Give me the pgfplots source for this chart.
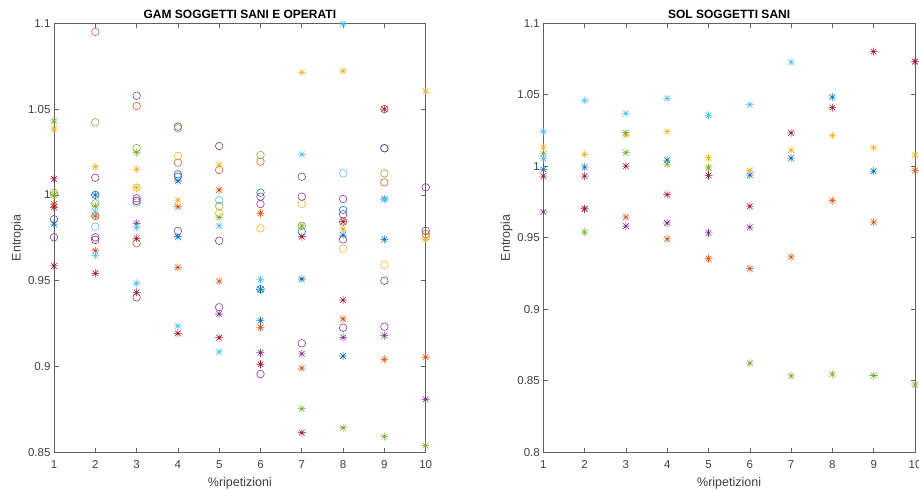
\documentclass[border=0pt]{standalone}
\usepackage{pgfplots}
\pgfplotsset{compat=1.18}
\usepackage{fontspec}
\setmainfont{Liberation Sans}
\definecolor{c1}{rgb}{0,0.447,0.741}
\definecolor{c2}{rgb}{0.85,0.325,0.098}
\definecolor{c3}{rgb}{0.929,0.694,0.125}
\definecolor{c4}{rgb}{0.494,0.184,0.556}
\definecolor{c5}{rgb}{0.466,0.674,0.188}
\definecolor{c6}{rgb}{0.301,0.745,0.933}
\definecolor{c7}{rgb}{0.635,0.078,0.184}
\definecolor{axc}{rgb}{0.38,0.38,0.38}
\definecolor{txc}{rgb}{0.25,0.25,0.25}
\pgfdeclareplotmark{mstar}{%
  \pgfpathmoveto{\pgfqpoint{0pt}{\pgfplotmarksize}}\pgfpathlineto{\pgfqpoint{0pt}{-\pgfplotmarksize}}%
  \pgfpathmoveto{\pgfqpoint{\pgfplotmarksize}{0pt}}\pgfpathlineto{\pgfqpoint{-\pgfplotmarksize}{0pt}}%
  \pgfpathmoveto{\pgfqpoint{0.707\pgfplotmarksize}{0.707\pgfplotmarksize}}\pgfpathlineto{\pgfqpoint{-0.707\pgfplotmarksize}{-0.707\pgfplotmarksize}}%
  \pgfpathmoveto{\pgfqpoint{0.707\pgfplotmarksize}{-0.707\pgfplotmarksize}}\pgfpathlineto{\pgfqpoint{-0.707\pgfplotmarksize}{0.707\pgfplotmarksize}}%
  \pgfusepathqstroke}
\pgfplotsset{
  mstyle/.style={
    scale only axis, width=371.7pt, height=429pt,
    xmin=1, xmax=10, xtick={1,...,10},
    axis line style={draw=axc, line width=0.6pt},
    tick style={draw=axc, line width=0.6pt},
    tick align=inside, major tick length=4.5pt,
    xtick pos=both, ytick pos=both,
    ticklabel style={font=\fontsize{11.5}{13}\selectfont, text=txc},
    xticklabel style={yshift=-5pt},
    /pgf/number format/assume math mode=true,
    label style={font=\fontsize{12.5}{14}\selectfont, text=txc},
    title style={font=\fontsize{12}{14}\selectfont\bfseries, text=black, yshift=-5pt},
    xlabel={\%ripetizioni}, ylabel={Entropia},
    xlabel style={yshift=-2pt},
    ylabel style={yshift=-2pt},
    clip=false,
  },
  ciro/.style={only marks, mark=o, mark size=3.8pt, mark options={line width=0.55pt}},
  star/.style={only marks, mark=mstar, mark size=4pt, mark options={line width=0.55pt}},
}
\begin{document}
\begin{tikzpicture}
\begin{axis}[mstyle, at={(54pt,37.7pt)}, anchor=south west,
  ymin=0.85, ymax=1.1, ytick={0.85,0.9,0.95,1,1.05,1.1},
  title={GAM SOGGETTI SANI E OPERATI}]
% circles
\addplot[ciro, c1] coordinates {(2,1.0) (4,1.012) (6,1.0013) (7,0.9786) (8,0.9912) (9,1.0272) (6,0.945)};
\addplot[ciro, c2] coordinates {(2,1.095) (2,0.9877) (3,1.0518) (3,0.9718) (4,1.0188) (5,1.0145) (6,1.0194) (8,0.9844) (9,1.0073) (9,1.05) (10,0.9772)};
\addplot[ciro, c3] coordinates {(1,1.0) (3,1.0042) (4,1.0227) (5,0.9892) (6,0.9805) (7,0.9947) (8,0.9687) (9,0.9592) (10,0.9755)};
\addplot[ciro, c4] coordinates {(1,0.9858) (1,0.9753) (2,1.01) (2,0.9753) (3,1.0578) (3,0.998) (3,0.9403) (4,1.0398) (4,0.979) (4,1.0106) (5,1.0285) (5,0.9733) (5,0.9345) (6,0.999) (6,0.9947) (6,0.8956) (7,1.0106) (7,0.999) (7,0.9135) (8,0.9976) (8,0.9887) (8,0.9226) (8,0.9741) (9,1.0272) (9,0.95) (9,0.9232) (10,1.0044) (10,0.9791)};
\addplot[ciro, c5] coordinates {(1,1.0013) (2,1.0423) (2,0.9951) (3,1.0272) (4,1.0388) (5,0.9935) (6,1.0232) (7,0.982) (9,1.0126)};
\addplot[ciro, c6] coordinates {(2,0.9815) (3,0.9955) (5,0.997) (8,1.0126)};
\addplot[ciro, c7] coordinates {(2,0.9738) (3,0.9965)};
% asterisks
\addplot[star, c1] coordinates {(1,0.983) (2,1.0) (4,1.0081) (4,0.9756) (6,0.9267) (6,0.945) (7,0.951) (8,0.9766) (8,0.9061) (9,0.9741) (9,0.9976)};
\addplot[star, c2] coordinates {(1,0.9947) (2,0.9877) (2,0.9675) (4,0.9931) (4,0.9578) (5,1.0029) (5,0.9497) (6,0.9893) (6,0.9228) (7,0.899) (8,0.9277) (9,0.9042) (10,0.9054)};
\addplot[star, c3] coordinates {(1,1.0384) (2,1.0164) (3,1.0149) (3,1.0042) (4,0.997) (5,1.0174) (7,1.0714) (8,1.0722) (8,0.98) (10,1.0605) (10,0.9741)};
\addplot[star, c4] coordinates {(3,0.9834) (5,0.9306) (6,0.908) (7,0.9074) (8,0.917) (9,0.918) (10,0.8809)};
\addplot[star, c5] coordinates {(1,1.043) (1,1.0) (2,0.9935) (3,1.0246) (5,0.9869) (7,0.982) (7,0.8754) (8,0.8643) (9,0.8591) (10,0.8539)};
\addplot[star, c6] coordinates {(2,0.990) (2,0.9646) (3,0.9809) (3,0.9485) (4,0.9236) (5,0.9819) (5,0.9085) (6,0.9508) (7,1.0236) (8,1.0996) (9,0.9976)};
\addplot[star, c7] coordinates {(1,1.0093) (1,0.9928) (1,0.9586) (2,0.9543) (3,0.9747) (3,0.9432) (4,0.9193) (5,0.9168) (6,0.9013) (7,0.9756) (7,0.8614) (8,0.9387) (8,0.9844) (9,1.05)};
\end{axis}
\begin{axis}[mstyle, at={(543.3pt,37.7pt)}, anchor=south west,
  ymin=0.8, ymax=1.1, ytick={0.8,0.85,0.9,0.95,1,1.05,1.1},
  title={SOL SOGGETTI SANI}]
\addplot[star, c1] coordinates {(1,0.9978) (2,0.9994) (4,1.0043) (6,0.9938) (7,1.0057) (8,1.0484) (9,0.9966)};
\addplot[star, c2] coordinates {(3,0.9644) (4,0.9492) (5,0.9354) (6,0.9284) (7,0.9366) (8,0.976) (9,0.9609) (10,0.997)};
\addplot[star, c3] coordinates {(1,1.0134) (2,1.0083) (3,1.0218) (4,1.0242) (5,1.006) (6,0.9971) (7,1.0113) (8,1.0216) (9,1.013) (10,1.0078)};
\addplot[star, c4] coordinates {(1,0.9681) (2,0.9702) (3,0.9581) (4,0.9604) (5,0.9534) (6,0.9574)};
\addplot[star, c5] coordinates {(1,1.0087) (2,0.9539) (3,1.0235) (3,1.0095) (4,1.0015) (5,0.9989) (6,0.8624) (7,0.8535) (8,0.8547) (9,0.8537) (10,0.8472)};
\addplot[star, c6] coordinates {(1,1.0242) (1,1.0055) (2,1.0461) (3,1.037) (4,1.0475) (5,1.0356) (6,1.0431) (7,1.0729)};
\addplot[star, c7] coordinates {(1,0.9931) (2,0.9931) (2,0.9702) (3,1.0001) (4,0.9802) (5,0.9935) (6,0.9721) (7,1.0234) (8,1.041) (9,1.0802) (10,1.0732)};
\end{axis}
\pgfresetboundingbox
\path[use as bounding box] (0,0) rectangle (919pt,490pt);
\end{tikzpicture}
\end{document}
